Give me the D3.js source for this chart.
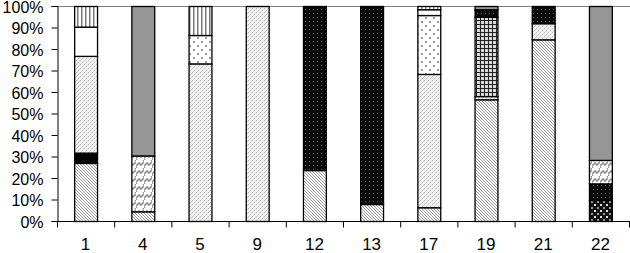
<!DOCTYPE html>
<html>
<head>
<meta charset="utf-8">
<script src="https://cdn.jsdelivr.net/npm/d3@7"></script>
<style>
  body { margin: 0; background: #fff; }
  text { font-family: "Liberation Sans", Arial, sans-serif; }
</style>
</head>
<body>
<div id="chart"></div>
<script>
// categories along x
const categories = ["1", "4", "5", "9", "12", "13", "17", "19", "21", "22"];
const yTicks = [0, 10, 20, 30, 40, 50, 60, 70, 80, 90, 100];

// series values (percent), bottom of the stack first
const checker     = [0, 0, 0, 0, 0, 0, 0, 0, 0, 9.8];
const hatch       = [27, 4.5, 0, 0, 23.7, 7.9, 6.4, 56.6, 84.5, 0];
const solidBlack  = [4.8, 0, 0, 0, 0, 0, 0, 0, 0, 0];
const lightDots   = [45, 0, 73.3, 100, 0, 0, 62, 1.5, 7.5, 0];
const sparseDots  = [0, 0, 13.2, 0, 0, 0, 27.4, 0, 0, 0];
const whiteFill   = [13.6, 0, 0, 0, 0, 0, 2.7, 0, 0, 0];
const grid        = [0, 0, 0, 0, 0, 0, 0, 36.9, 0, 0];
const blackDotted = [0, 0, 0, 0, 76.3, 92.1, 0, 3.5, 8, 7.7];
const zigzag      = [0, 26, 0, 0, 0, 0, 0, 0, 0, 10.9];
const vStripes    = [9.6, 0, 13.5, 0, 0, 0, 1.5, 0, 0, 0];
const darkGray    = [0, 69.5, 0, 0, 0, 0, 0, 1.5, 0, 71.6];

const series = {checker, hatch, solidBlack, lightDots, sparseDots, whiteFill,
                grid, blackDotted, zigzag, vStripes, darkGray};
const keys = Object.keys(series);

const rows = categories.map((c, i) => {
    const r = {cat: c};
    keys.forEach(k => r[k] = series[k][i]);
    return r;
});

const width = 630, height = 253;
const svg = d3.select("#chart").append("svg")
    .attr("width", width)
    .attr("height", height);

// fill patterns
const defs = svg.append("defs");
function pat(id, w, h, bg) {
    const p = defs.append("pattern").attr("id", id)
        .attr("patternUnits", "userSpaceOnUse")
        .attr("width", w).attr("height", h);
    p.append("rect").attr("width", w).attr("height", h).attr("fill", bg);
    return p;
}
let p;
p = pat("p-hatch", 3, 3, "#fff");
p.append("path").attr("d", "M0,0L3,3M-1,2L1,4M2,-1L4,1")
    .attr("stroke", "#9a9a9a").attr("stroke-width", 1);

p = pat("p-lightDots", 4, 4, "#f2f2f2");
p.append("rect").attr("width", 1).attr("height", 1).attr("fill", "#b8b8b8");
p.append("rect").attr("x", 2).attr("y", 2).attr("width", 1).attr("height", 1).attr("fill", "#b8b8b8");
p.append("rect").attr("x", 1).attr("y", 3).attr("width", 1).attr("height", 1).attr("fill", "#d0d0d0");
p.append("rect").attr("x", 3).attr("y", 1).attr("width", 1).attr("height", 1).attr("fill", "#d0d0d0");

p = pat("p-sparseDots", 8, 8, "#fff");
p.append("rect").attr("x", 1).attr("y", 1).attr("width", 2).attr("height", 2).attr("fill", "#9a9a9a");
p.append("rect").attr("x", 5).attr("y", 5).attr("width", 2).attr("height", 2).attr("fill", "#9a9a9a");

p = pat("p-grid", 4, 4, "#d8d8d8");
p.append("path").attr("d", "M0.5,0V4M0,0.5H4").attr("stroke", "#222").attr("stroke-width", 1);

p = pat("p-blackDotted", 4, 4, "#0a0a0a");
p.append("rect").attr("x", 1).attr("y", 1).attr("width", 1).attr("height", 1).attr("fill", "#5a5a5a");

p = pat("p-zigzag", 8, 8, "#fff");
p.append("path").attr("d", "M0,6L3,3L5,5L8,2M0,8L1,7M7,1L8,0")
    .attr("stroke", "#999").attr("stroke-width", 1.8).attr("fill", "none");

p = pat("p-vStripes", 4, 4, "#fff");
p.append("rect").attr("x", 1).attr("width", 1.5).attr("height", 4).attr("fill", "#7a7a7a");

p = pat("p-checker", 6, 6, "#111");
p.append("rect").attr("x", 0).attr("y", 0).attr("width", 2).attr("height", 2).attr("fill", "#ddd");
p.append("rect").attr("x", 3).attr("y", 3).attr("width", 2).attr("height", 2).attr("fill", "#999");

const fills = {
    checker: "url(#p-checker)",
    hatch: "url(#p-hatch)",
    solidBlack: "#000",
    lightDots: "url(#p-lightDots)",
    sparseDots: "url(#p-sparseDots)",
    whiteFill: "#fff",
    grid: "url(#p-grid)",
    blackDotted: "url(#p-blackDotted)",
    zigzag: "url(#p-zigzag)",
    vStripes: "url(#p-vStripes)",
    darkGray: "#969696"
};

const plotLeft = 57, plotRight = 629, plotTop = 6, plotBottom = 221;

const x = d3.scaleBand().domain(categories).range([plotLeft, plotRight])
    .paddingInner(0.6).paddingOuter(0.3);
const xCell = d3.scaleBand().domain(categories).range([plotLeft, plotRight]);
const y = d3.scaleLinear().domain([0, 100]).range([plotBottom, plotTop]);

// top border line
svg.append("line")
    .attr("x1", plotLeft).attr("x2", width)
    .attr("y1", y(100) + 0.5).attr("y2", y(100) + 0.5)
    .attr("stroke", "#808080");

const stacked = d3.stack().keys(keys)(rows);

svg.append("g").selectAll("g")
    .data(stacked)
    .join("g")
    .attr("fill", d => fills[d.key])
    .selectAll("rect")
    .data(d => d.filter(s => s[1] - s[0] > 0))
    .join("rect")
    .attr("x", d => x(d.data.cat) + 0.5)
    .attr("y", d => y(d[1]) + 0.5)
    .attr("width", x.bandwidth())
    .attr("height", d => y(d[0]) - y(d[1]))
    .attr("stroke", "#000")
    .attr("stroke-width", 1.3);

// y axis
const yAxis = d3.axisLeft(y).tickValues(yTicks).tickSize(6).tickPadding(8)
    .tickFormat(d => d + "%");
svg.append("g")
    .attr("transform", `translate(${plotLeft + 0.5},0)`)
    .call(yAxis)
    .call(g => g.selectAll("path,line").attr("stroke", "#000"))
    .call(g => g.selectAll("text").attr("font-size", 16).attr("fill", "#000")
        .attr("dy", "0.4em")
        .attr("font-family", "'Liberation Sans', Arial, sans-serif"));

// x axis: line, boundary ticks, labels
const xg = svg.append("g").attr("transform", `translate(0,${plotBottom + 0.5})`);
xg.append("line").attr("x1", plotLeft).attr("x2", plotRight + 1).attr("stroke", "#000");
xg.selectAll(".tk")
    .data(categories.concat(["end"]))
    .join("line")
    .attr("class", "tk")
    .attr("x1", d => (d === "end" ? plotRight : xCell(d)) + 0.5)
    .attr("x2", d => (d === "end" ? plotRight : xCell(d)) + 0.5)
    .attr("y1", 0).attr("y2", 6)
    .attr("stroke", "#000");
const xAxis = d3.axisBottom(x).tickSize(0).tickPadding(16);
xg.append("g").call(xAxis)
    .call(g => g.select(".domain").remove())
    .call(g => g.selectAll("text").attr("font-size", 17).attr("fill", "#000")
        .attr("font-family", "'Liberation Sans', Arial, sans-serif"));
</script>
</body>
</html>
